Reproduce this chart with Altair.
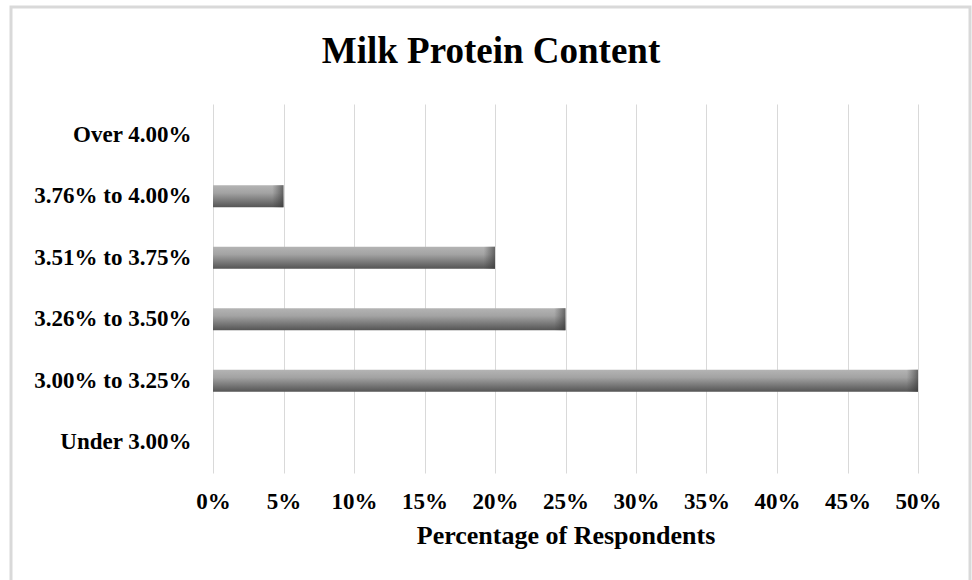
import altair as alt
import pandas as pd

title_text = "Milk Protein Content"
categories = ["Over 4.00%", "3.76% to 4.00%", "3.51% to 3.75%",
              "3.26% to 3.50%", "3.00% to 3.25%", "Under 3.00%"]
values = [0, 5, 20, 25, 50, 0]
x_ticks = [0, 5, 10, 15, 20, 25, 30, 35, 40, 45, 50]

df = pd.DataFrame({"cat": categories, "val": values})

FONT = "Liberation Serif"

y_enc = alt.Y("cat:N", sort=categories, title=None,
              scale=alt.Scale(paddingInner=0.64, paddingOuter=0.32),
              axis=alt.Axis(labelFont=FONT, labelFontSize=23, labelFontWeight="bold",
                            labelColor="#000000", ticks=False, domain=False, grid=False,
                            labelPadding=22, labelLimit=300))
x_enc = alt.X("val:Q", title="Percentage of Respondents",
              scale=alt.Scale(domain=[0, 50], nice=False),
              axis=alt.Axis(values=x_ticks, labelExpr="datum.value + '%'",
                            labelFont=FONT, labelFontSize=23, labelFontWeight="bold",
                            labelColor="#000000", ticks=False, domain=False,
                            labelFlush=False,
                            grid=True, gridColor="#d9d9d9", gridWidth=1,
                            labelPadding=17, titleFont=FONT, titleFontSize=26,
                            titleFontWeight="bold", titleColor="#000000",
                            titlePadding=9))

frame = alt.Chart(pd.DataFrame({"a": [0]})).mark_rect(
    fillOpacity=0, stroke="#d9d9d9", strokeWidth=3
).encode(x=alt.value(-202), x2=alt.value(757), y=alt.value(-97), y2=alt.value(600))

title = alt.Chart(pd.DataFrame({"t": [title_text]})).mark_text(
    font=FONT, fontSize=37, fontWeight="bold", color="#000000",
    align="center", baseline="alphabetic"
).encode(text="t:N", x=alt.value(278), y=alt.value(-41))

bars = alt.Chart(df).mark_bar(
    color=alt.Gradient(gradient="linear", x1=0, y1=0, x2=0, y2=1,
                       stops=[alt.GradientStop(offset=0, color="#b4b4b4"),
                              alt.GradientStop(offset=0.35, color="#a3a3a3"),
                              alt.GradientStop(offset=1, color="#545454")])
).encode(x=x_enc, y=y_enc)

ends = alt.Chart(df).transform_filter("datum.val > 0").transform_calculate(
    start="datum.val - 0.8"
).mark_bar(
    color=alt.Gradient(gradient="linear", x1=0, y1=0, x2=1, y2=0,
                       stops=[alt.GradientStop(offset=0, color="rgba(60,60,60,0)"),
                              alt.GradientStop(offset=1, color="rgba(50,50,50,0.6)")])
).encode(x=alt.X("start:Q"), x2="val:Q",
         y=alt.Y("cat:N", sort=categories))

chart = alt.layer(frame, title, bars, ends).properties(
    width=705, height=369,
    background="white",
    autosize=alt.AutoSizeParams(type="none"),
    padding={"left": 213, "top": 104, "right": 54, "bottom": 107},
).configure_view(stroke=None)

chart.save("out.html", embed_options={"renderer": "svg", "actions": False})
